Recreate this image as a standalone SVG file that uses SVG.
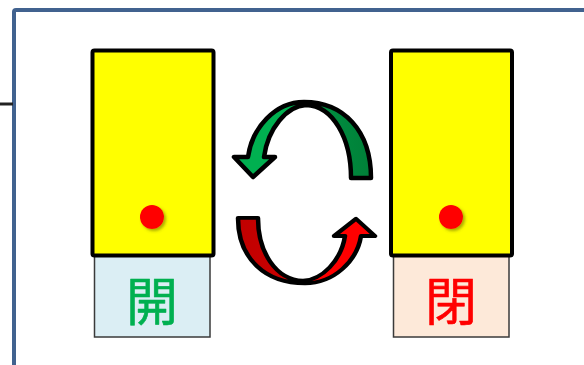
<svg xmlns="http://www.w3.org/2000/svg" width="584" height="365" viewBox="0 0 584 365">
  <style>
    .door { fill: #ffff00; stroke: #000; stroke-width: 4; }
    .label { stroke: #3a3a3a; stroke-width: 1.5; }
    .dot { fill: #ff0000; filter: url(#shadow); }
    .arrow { stroke: #000; stroke-width: 4.5; stroke-linejoin: round; }
    .txt { font-family: "Noto Sans CJK JP", "Noto Sans CJK SC", sans-serif; font-size: 52px; text-anchor: middle; dominant-baseline: central; stroke-width: 0.6; stroke-linejoin: round; }
  </style>
  <defs>
    <linearGradient id="gGreen" x1="0" y1="0" x2="1" y2="0">
      <stop offset="0" stop-color="#00b050"/>
      <stop offset="0.5" stop-color="#00b050"/>
      <stop offset="0.5" stop-color="#009444"/>
      <stop offset="1" stop-color="#008038"/>
    </linearGradient>
    <linearGradient id="gRed" x1="0" y1="0" x2="1" y2="0">
      <stop offset="0" stop-color="#ff0000"/>
      <stop offset="0.5" stop-color="#ff0000"/>
      <stop offset="0.5" stop-color="#d00000"/>
      <stop offset="1" stop-color="#c00000"/>
    </linearGradient>
    <filter id="shadow" x="-50%" y="-50%" width="200%" height="200%">
      <feDropShadow dx="2" dy="2" stdDeviation="1.5" flood-color="#555500" flood-opacity="0.5"/>
    </filter>
    <path id="curve" d="M 253,177 L 234,157 L 248,157 C 252,128 275,102 304,102 C 343,102 371,130 371,178 L 351,178 C 351,138 333,106 306,105 C 287,106 268,128 264,157 L 275,157 Z"/>
  </defs>

  <g id="frame">
    <path d="M 14,365 L 14,12 Q 14,10 16,10 L 584,10" fill="none" stroke="#41628f" stroke-width="4"/>
    <line x1="0" y1="104" x2="13" y2="104" stroke="#222" stroke-width="3"/>
  </g>

  <g id="node-open">
    <rect class="label" x="94.5" y="256" width="115.5" height="81" fill="#dbeef4"/>
    <rect class="door" x="92.5" y="50.5" width="121" height="205" rx="2"/>
    <circle class="dot" cx="152" cy="217" r="12"/>
    <text class="txt" x="152" y="298" fill="#00b050" stroke="#00b050">開</text>
  </g>

  <g id="node-closed">
    <rect class="label" x="393.5" y="256" width="115.5" height="81" fill="#fde9d9"/>
    <rect class="door" x="391" y="50.5" width="121" height="205" rx="2"/>
    <circle class="dot" cx="451" cy="217" r="12"/>
    <text class="txt" x="451" y="298" fill="#ff0000" stroke="#ff0000">閉</text>
  </g>

  <g id="connectors">
    <use href="#curve" class="arrow" fill="url(#gGreen)"/>
    <use href="#curve" class="arrow" fill="url(#gRed)" transform="matrix(-1 0 0 -0.86 609 371)" style="vector-effect: non-scaling-stroke"/>
  </g>
</svg>
